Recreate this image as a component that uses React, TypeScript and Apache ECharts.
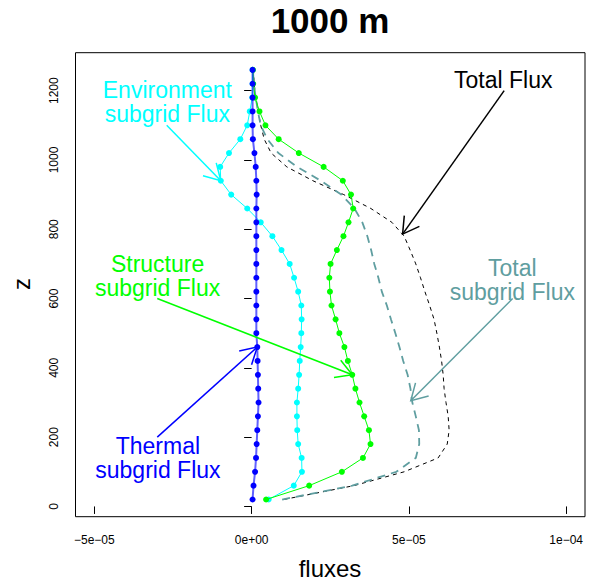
import React, { useEffect, useRef } from "react";
import * as echarts from "echarts";

// Heights (m)
const zLevels = [20, 60, 100, 140, 180, 220, 260, 300, 340, 380, 420, 460, 500, 540, 580, 620, 660, 700, 740, 780, 820, 860, 900, 940, 980, 1020, 1060, 1100, 1140, 1180, 1220, 1260];

// Fluxes in units of 1e-5
const thermal = [0.03, 0.06, 0.11, 0.14, 0.16, 0.18, 0.2, 0.22, 0.21, 0.2, 0.19, 0.18, 0.15, 0.15, 0.15, 0.15, 0.15, 0.15, 0.15, 0.15, 0.15, 0.15, 0.16, 0.15, 0.13, 0.09, 0.04, 0.03, 0.03, 0.03, 0.03, 0.03];
const environment = [0.54, 1.34, 1.6, 1.59, 1.48, 1.45, 1.44, 1.44, 1.48, 1.51, 1.53, 1.56, 1.58, 1.59, 1.58, 1.48, 1.35, 1.21, 0.95, 0.66, 0.29, -0.14, -0.65, -0.98, -1.0, -0.72, -0.36, -0.14, -0.06, 0.02, 0.03, 0.03];
const structure = [0.46, 1.83, 2.87, 3.54, 3.78, 3.73, 3.58, 3.43, 3.3, 3.2, 3.06, 2.95, 2.79, 2.67, 2.54, 2.49, 2.47, 2.51, 2.71, 2.92, 3.08, 3.23, 3.16, 2.9, 2.29, 1.5, 0.86, 0.44, 0.25, 0.11, 0.05, 0.04];
const totalSubgrid = [0.97, 3.2, 4.6, 5.22, 5.33, 5.32, 5.22, 5.11, 5.05, 4.96, 4.82, 4.7, 4.57, 4.43, 4.3, 4.14, 4.03, 3.9, 3.8, 3.68, 3.52, 3.27, 2.85, 2.2, 1.45, 0.85, 0.5, 0.29, 0.2, 0.13, 0.07, 0.04];
const totalFlux = [1.02, 3.25, 4.85, 5.93, 6.22, 6.28, 6.25, 6.18, 6.12, 6.09, 6.04, 5.97, 5.89, 5.8, 5.66, 5.51, 5.37, 5.22, 5.04, 4.85, 4.46, 3.79, 2.93, 1.95, 1.12, 0.62, 0.4, 0.29, 0.21, 0.13, 0.08, 0.06];

const xTickValues = [-5, 0, 5, 10];
const xTickLabels = ["\u22125e\u221205", "0e+00", "5e\u221205", "1e\u221204"];
const yTickValues = [0, 200, 400, 600, 800, 1000, 1200];

const CYAN = "#00FFFF";
const GREEN = "#00FF00";
const BLUE = "#0000FF";
const CADET = "#5F9EA0";
const BLACK = "#000000";
const FONT = '"Liberation Sans", Arial, Helvetica, sans-serif';

// Annotation config: arrow [x0, z0, x1, z1], text block centre [x, z]
const annotations: { color: string; arrow: number[]; text: string; at: number[] }[] = [
  { color: CYAN, arrow: [-2.7, 1100, -0.98, 940], text: "Environment\nsubgrid Flux", at: [-2.68, 1167] },
  { color: BLACK, arrow: [8.03, 1200, 4.8, 786], text: "Total Flux", at: [8.0, 1232] },
  { color: CADET, arrow: [8.3, 600, 5.06, 305], text: "Total\nsubgrid Flux", at: [8.29, 654] },
  { color: GREEN, arrow: [-3.0, 600, 3.2, 380], text: "Structure\nsubgrid Flux", at: [-2.99, 666] },
  { color: BLUE, arrow: [-3.0, 200, 0.18, 460], text: "Thermal\nsubgrid Flux", at: [-2.98, 140] },
];

const pairs = (xs: number[]) => xs.map((x, i) => [x, zLevels[i]]);

export default function App() {
  const ref = useRef<HTMLDivElement>(null);
  useEffect(() => {
    if (!ref.current) return;
    const chart = echarts.init(ref.current, null, { renderer: "svg" });

    const option: any = {
      animation: false,
      backgroundColor: "#ffffff",
      grid: { left: 75.5, top: 52.7, width: 509.5, height: 464, show: true, borderColor: "#000", borderWidth: 1, backgroundColor: "transparent" },
      xAxis: {
        type: "value",
        min: -5.6,
        max: 10.6,
        axisLine: { show: false },
        splitLine: { show: false },
        axisTick: { show: true, customValues: xTickValues, length: 7.5, lineStyle: { color: "#000", width: 1 } },
        axisLabel: {
          customValues: xTickValues,
          margin: 17,
          fontSize: 12,
          fontFamily: FONT,
          color: "#000",
          formatter: (v: number) => {
            const i = xTickValues.findIndex((t) => Math.abs(t - v) < 1e-9);
            return i >= 0 ? xTickLabels[i] : "";
          },
        },
      },
      yAxis: {
        type: "value",
        min: -29.6,
        max: 1309.6,
        axisLine: { show: false },
        splitLine: { show: false },
        axisTick: { show: true, customValues: yTickValues, length: 7.5, lineStyle: { color: "#000", width: 1 } },
        axisLabel: { customValues: yTickValues, rotate: 90, margin: 16, fontSize: 12, fontFamily: FONT, color: "#000", formatter: (v: number) => String(Math.round(v)) },
      },
      graphic: [
        { type: "text", x: 330, y: 20, style: { text: "1000 m", font: `bold 35px ${FONT}`, fill: "#000", align: "center", verticalAlign: "middle" } },
        { type: "text", x: 330, y: 568, style: { text: "fluxes", font: `24px ${FONT}`, fill: "#000", align: "center", verticalAlign: "middle" } },
        { type: "text", x: 21, y: 284, rotation: Math.PI / 2, style: { text: "z", font: `24px ${FONT}`, fill: "#000", align: "center", verticalAlign: "middle" } },
      ],
      series: [
        { type: "line", name: "Total Flux", data: pairs(totalFlux), showSymbol: false, lineStyle: { color: BLACK, width: 1, type: [4, 4] }, z: 2 },
        { type: "line", name: "Total subgrid Flux", data: pairs(totalSubgrid), showSymbol: false, lineStyle: { color: CADET, width: 1.8, type: [8, 6] }, z: 2 },
        { type: "line", name: "Environment", data: pairs(environment), symbol: "circle", symbolSize: 6, showSymbol: true, lineStyle: { color: CYAN, width: 1 }, itemStyle: { color: CYAN }, z: 3 },
        { type: "line", name: "Structure", data: pairs(structure), symbol: "circle", symbolSize: 6, showSymbol: true, lineStyle: { color: GREEN, width: 1 }, itemStyle: { color: GREEN }, z: 4 },
        { type: "line", name: "Thermal", data: pairs(thermal), symbol: "circle", symbolSize: 6, showSymbol: true, lineStyle: { color: "rgba(30,30,255,0.7)", width: 2 }, itemStyle: { color: BLUE }, z: 5 },
        {
          type: "custom",
          name: "annotations",
          data: annotations.map((a) => a.at),
          clip: false,
          silent: true,
          z: 6,
          renderItem: (params: any, api: any) => {
            const ann = annotations[params.dataIndex];
            const p0 = api.coord([ann.arrow[0], ann.arrow[1]]);
            const p1 = api.coord([ann.arrow[2], ann.arrow[3]]);
            const pt = api.coord([ann.at[0], ann.at[1]]);
            const color = ann.color;
            const ang = Math.atan2(p1[1] - p0[1], p1[0] - p0[0]);
            const L = 18.5;
            const h = Math.PI / 6;
            const h1 = [p1[0] - L * Math.cos(ang - h), p1[1] - L * Math.sin(ang - h)];
            const h2 = [p1[0] - L * Math.cos(ang + h), p1[1] - L * Math.sin(ang + h)];
            return {
              type: "group",
              children: [
                { type: "line", shape: { x1: p0[0], y1: p0[1], x2: p1[0], y2: p1[1] }, style: { stroke: color, lineWidth: 1.5 } },
                { type: "polyline", shape: { points: [h1, p1, h2] }, style: { stroke: color, lineWidth: 1.5, fill: null } },
                {
                  type: "text",
                  x: pt[0],
                  y: pt[1],
                  style: { text: ann.text, font: `23px ${FONT}`, fill: color, align: "center", verticalAlign: "middle", lineHeight: 24 },
                },
              ],
            };
          },
        },
      ],
    };
    chart.setOption(option);
    return () => chart.dispose();
  }, []);
  return <div ref={ref} style={{ position: "absolute", left: 0, top: 0, width: 592, height: 581 }} />;
}
